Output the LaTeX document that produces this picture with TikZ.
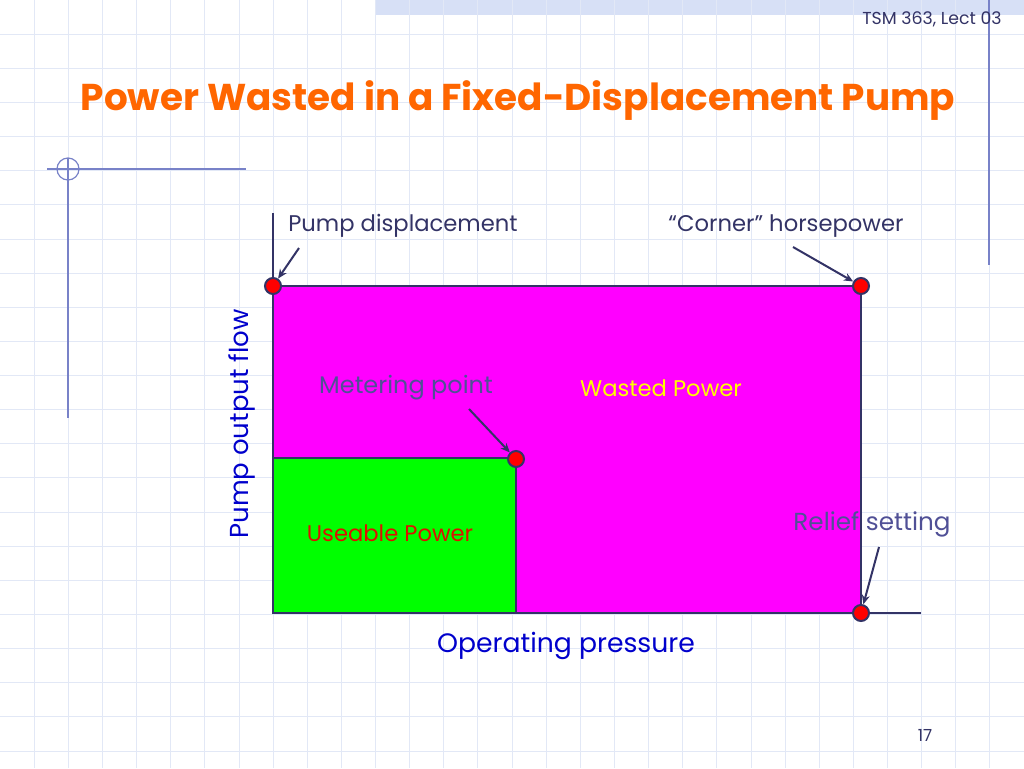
\documentclass[tikz,border=0pt]{standalone}
\usepackage{fontspec}
\setmainfont{Poppins}
\usetikzlibrary{arrows.meta}
\definecolor{slate}{RGB}{51,51,102}
\definecolor{meter}{RGB}{80,80,150}
\definecolor{titleorange}{RGB}{255,102,0}
\definecolor{gridblue}{RGB}{226,232,246}
\definecolor{bandblue}{RGB}{215,224,246}
\definecolor{decoblue}{RGB}{120,130,200}
\definecolor{axisblue}{RGB}{0,0,204}
\definecolor{usered}{RGB}{221,17,0}
\definecolor{wastepink}{RGB}{255,0,255}
\definecolor{usegreen}{RGB}{0,255,0}
\definecolor{wasteyellow}{RGB}{255,255,0}
\tikzstyle{dot}=[circle,inner sep=0pt,minimum size=12pt,draw=slate,line width=1.5pt,fill=red]
\tikzstyle{lbl}=[inner sep=0pt,text=slate,font=\fontsize{17}{20}\selectfont]
\tikzstyle{axlbl}=[inner sep=0pt,text=axisblue,font=\fontsize{19.5}{22}\selectfont]
\tikzstyle{pointer}=[->,>={Stealth[length=7pt,width=6pt]},draw=slate,line width=1.5pt]
\tikzstyle{gridline}=[draw=gridblue,line width=0.6pt]
\tikzstyle{deco}=[draw=decoblue,line width=0.9pt]

\begin{document}
\begin{tikzpicture}[x=0.75pt,y=-0.75pt]
  \useasboundingbox (0,0) rectangle (1024,768);
  \fill [white] (0,0) rectangle (1024,768);
  \fill [bandblue] (375,0) rectangle (1024,15);

  \foreach \k in {1,...,29}
    \draw [gridline] (\k*34.133,0) -- (\k*34.133,768);
  \foreach \k in {1,...,22}
    \draw [gridline] (0,\k*34.133) -- (1024,\k*34.133);

  \draw [deco] (47,169) -- (246,169);
  \draw [deco] (68,158) -- (68,418);
  \draw [deco] (68,169) circle (11);
  \draw [deco] (989,0) -- (989,265);

  \node [inner sep=0pt,text=slate,font=\fontsize{13}{15}\selectfont] at (932,19) (lect) {TSM 363, Lect 03};
  \node [inner sep=0pt,text=slate,font=\fontsize{12.5}{14}\selectfont] at (925,735) (page) {17};
  \node [inner sep=0pt,text=titleorange,font=\fontsize{28}{32}\selectfont\bfseries] at (518,101) (title) {Power Wasted in a Fixed-Displacement Pump};

  \fill [wastepink, draw=slate, line width=1pt] (273,286) rectangle (861,613);
  \fill [usegreen, draw=slate, line width=1pt] (273,458) rectangle (516,613);

  \coordinate (o) at (273,613);
  \coordinate (ytop) at (273,213);
  \coordinate (xend) at (921,613);
  \draw [draw=slate, line width=2pt] (ytop) -- (o) -- (xend);

  \node [dot] at (273,286) (pd) {};
  \node [dot] at (861,286) (chp) {};
  \node [dot] at (516,459) (mp) {};
  \node [dot] at (861,613) (rs) {};

  \node [lbl] at (403,226) (pdl) {Pump displacement};
  \node [lbl] at (786,226) (chpl) {“Corner” horsepower};
  \node [lbl, text=meter, font=\fontsize{18}{20}\selectfont] at (406,388) (mpl) {Metering point};
  \node [lbl, text=wasteyellow] at (661,388) (wp) {Wasted Power};
  \node [lbl, text=usered] at (390,533) (up) {Useable Power};
  \node [lbl, text=meter, font=\fontsize{18.5}{20}\selectfont] at (872,524) (rsl) {Relief setting};
  \node [axlbl, rotate=90] at (242,424) (flow) {Pump output flow};
  \node [axlbl, font=\fontsize{20}{22}\selectfont] at (566,646) (pres) {Operating pressure};

  \coordinate (pda) at (299,248);
  \coordinate (chpa) at (793,247);
  \coordinate (mpa) at (469,409);
  \coordinate (rsa) at (879,547);
  \draw [pointer] (pda) -- (pd);
  \draw [pointer] (chpa) -- (chp);
  \draw [pointer] (mpa) -- (mp);
  \draw [pointer] (rsa) -- (rs);
\end{tikzpicture}
\end{document}
